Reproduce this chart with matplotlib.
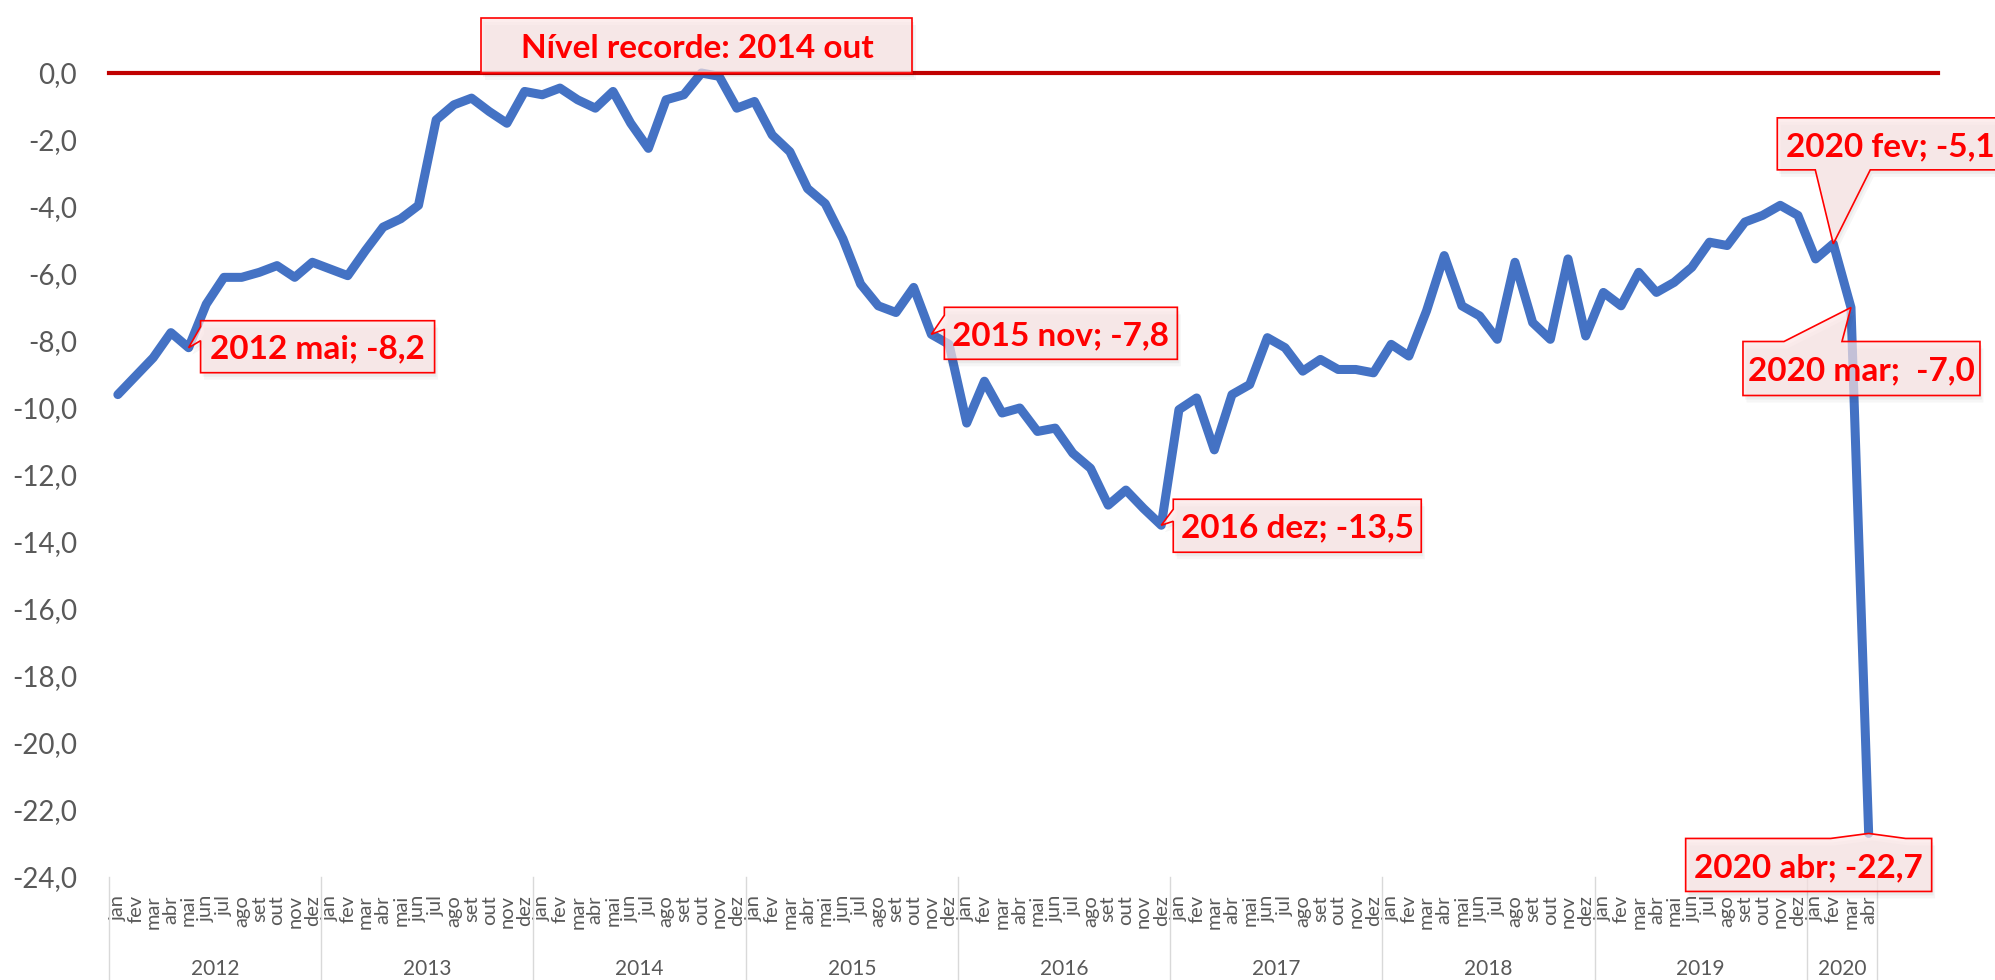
import matplotlib
matplotlib.use('Agg')
import matplotlib.pyplot as plt
from matplotlib.patches import Polygon
from matplotlib.transforms import IdentityTransform

W, H = 1995, 980

plt.rcParams['font.family'] = ['Lato', 'DejaVu Sans']

years = ['2012', '2013', '2014', '2015', '2016', '2017', '2018', '2019', '2020']
months = ['jan', 'fev', 'mar', 'abr', 'mai', 'jun', 'jul', 'ago', 'set', 'out', 'nov', 'dez']

v2012 = [-9.6, -9.05, -8.5, -7.75, -8.2, -6.9, -6.1, -6.1, -5.95, -5.75, -6.1, -5.65]
v2013 = [-5.85, -6.05, -5.3, -4.6, -4.35, -3.95, -1.4, -0.95, -0.75, -1.15, -1.5, -0.55]
v2014 = [-0.65, -0.45, -0.8, -1.05, -0.55, -1.5, -2.25, -0.8, -0.65, 0.0, -0.1, -1.05]
v2015 = [-0.85, -1.85, -2.35, -3.45, -3.9, -4.95, -6.3, -6.95, -7.15, -6.4, -7.8, -8.1]
v2016 = [-10.45, -9.2, -10.15, -10.0, -10.7, -10.6, -11.35, -11.8, -12.9, -12.45, -13.0, -13.5]
v2017 = [-10.05, -9.7, -11.25, -9.6, -9.3, -7.9, -8.2, -8.9, -8.55, -8.85, -8.85, -8.95]
v2018 = [-8.1, -8.45, -7.1, -5.45, -6.95, -7.25, -7.95, -5.65, -7.45, -7.95, -5.55, -7.85]
v2019 = [-6.55, -6.95, -5.95, -6.55, -6.25, -5.8, -5.05, -5.15, -4.45, -4.25, -3.95, -4.25]
v2020 = [-5.55, -5.1, -7.0, -22.7]

series = [v2012, v2013, v2014, v2015, v2016, v2017, v2018, v2019, v2020]
values = [v for s in series for v in s]
labels = [months[k] for s in series for k in range(len(s))]
x = list(range(len(values)))

# callouts: (index, text, dx, dy, width, height, pointer side, base start, base end)
callouts = [
    (33, 'Nível recorde: 2014 out', -220, -55, 431, 55, None, 0, 0),
    (4, '2012 mai; -8,2', 12, -27, 234, 52, 'left', 6, 20),
    (46, '2015 nov; -7,8', 13, -27, 233, 52, 'left', 8, 22),
    (59, '2016 dez; -13,5', 12, -26, 248, 53, 'left', 10, 22),
    (97, '2020 fev; -5,1', -56, -126, 227, 52, 'bottom', 38, 93),
    (98, '2020 mar;  -7,0', -108, 34, 237, 54, 'top', 41, 99),
    (99, '2020 abr; -22,7', -183, 5, 246, 53, 'top', 145, 220),
]

fig = plt.figure(figsize=(W / 100, H / 100), dpi=100)
ax = fig.add_axes([109 / W, 1 - 877 / H, (1877.5 - 109) / W, (877 - 73) / H])

ax.plot(x, values, color='#4472C4', lw=6.5, solid_joinstyle='round',
        solid_capstyle='round', clip_on=False, zorder=3)
ax.plot([-0.5, len(values) + 2.9], [0, 0], color='#C00000', lw=3,
        clip_on=False, zorder=4)

ax.set_xlim(-0.5, len(values) - 0.5)
ax.set_ylim(-24, 0)
ax.set_yticks(range(-24, 1, 2))
ax.set_yticklabels([f'{t:.1f}'.replace('.', ',') for t in range(-24, 1, 2)])
ax.set_xticks(x)
ax.set_xticklabels(labels, rotation=90, fontsize=14.5, color='#595959')
ax.tick_params(axis='x', length=0, pad=13)
ax.tick_params(axis='y', length=0, pad=23, labelsize=20, labelcolor='#595959')
for sp in ax.spines.values():
    sp.set_visible(False)

# year groups under the month labels
start = 0
bounds = [-0.5]
for yr, s in zip(years, series):
    mid = start + (len(s) - 1) / 2
    ax.annotate(yr, xy=(mid, 0), xycoords=ax.get_xaxis_transform(),
                xytext=(0, -92), textcoords='offset pixels', ha='center',
                va='center', fontsize=15, color='#595959')
    start += len(s)
    bounds.append(start - 0.5)
for b in bounds:
    ax.plot([b, b], [0, -0.13], transform=ax.get_xaxis_transform(),
            color='#D9D9D9', lw=1, clip_on=False)


def callout(i, text, dx, dy, w, h, side, b0, b1):
    tx, ty = ax.transData.transform((i, values[i]))
    ty = H - ty
    x0, y0 = tx + dx, ty + dy
    x1, y1 = x0 + w, y0 + h
    tip = (tx, ty)
    if side == 'left':
        pts = [(x0, y0), (x1, y0), (x1, y1), (x0, y1), (x0, y0 + b1), tip, (x0, y0 + b0)]
    elif side == 'top':
        pts = [(x0, y0), (x0 + b0, y0), tip, (x0 + b1, y0), (x1, y0), (x1, y1), (x0, y1)]
    elif side == 'bottom':
        pts = [(x0, y0), (x1, y0), (x1, y1), (x0 + b1, y1), tip, (x0 + b0, y1), (x0, y1)]
    else:
        pts = [(x0, y0), (x1, y0), (x1, y1), (x0, y1)]
    for off, a in [(7, 0.035), (4, 0.045)]:
        sh = [(px + off * 0.5, H - py - off) for px, py in pts]
        fig.add_artist(Polygon(sh, closed=True, transform=IdentityTransform(),
                               fc='black', ec='none', alpha=a, zorder=5))
    disp = [(px, H - py) for px, py in pts]
    fig.add_artist(Polygon(disp, closed=True, transform=IdentityTransform(),
                           fc=(0.99, 0.9, 0.9, 0.7), ec='#FF0000', lw=1.2,
                           zorder=6))
    fs = 24
    cap = 0.72 * fs * 100 / 72
    fig.text((x0 + x1) / 2 / W, 1 - ((y0 + y1) / 2 + cap / 2) / H, text,
             ha='center', va='baseline', fontsize=fs, fontweight='bold',
             color='#FF0000', zorder=7)


for c in callouts:
    callout(*c)

fig.savefig('out.png', dpi=100)
